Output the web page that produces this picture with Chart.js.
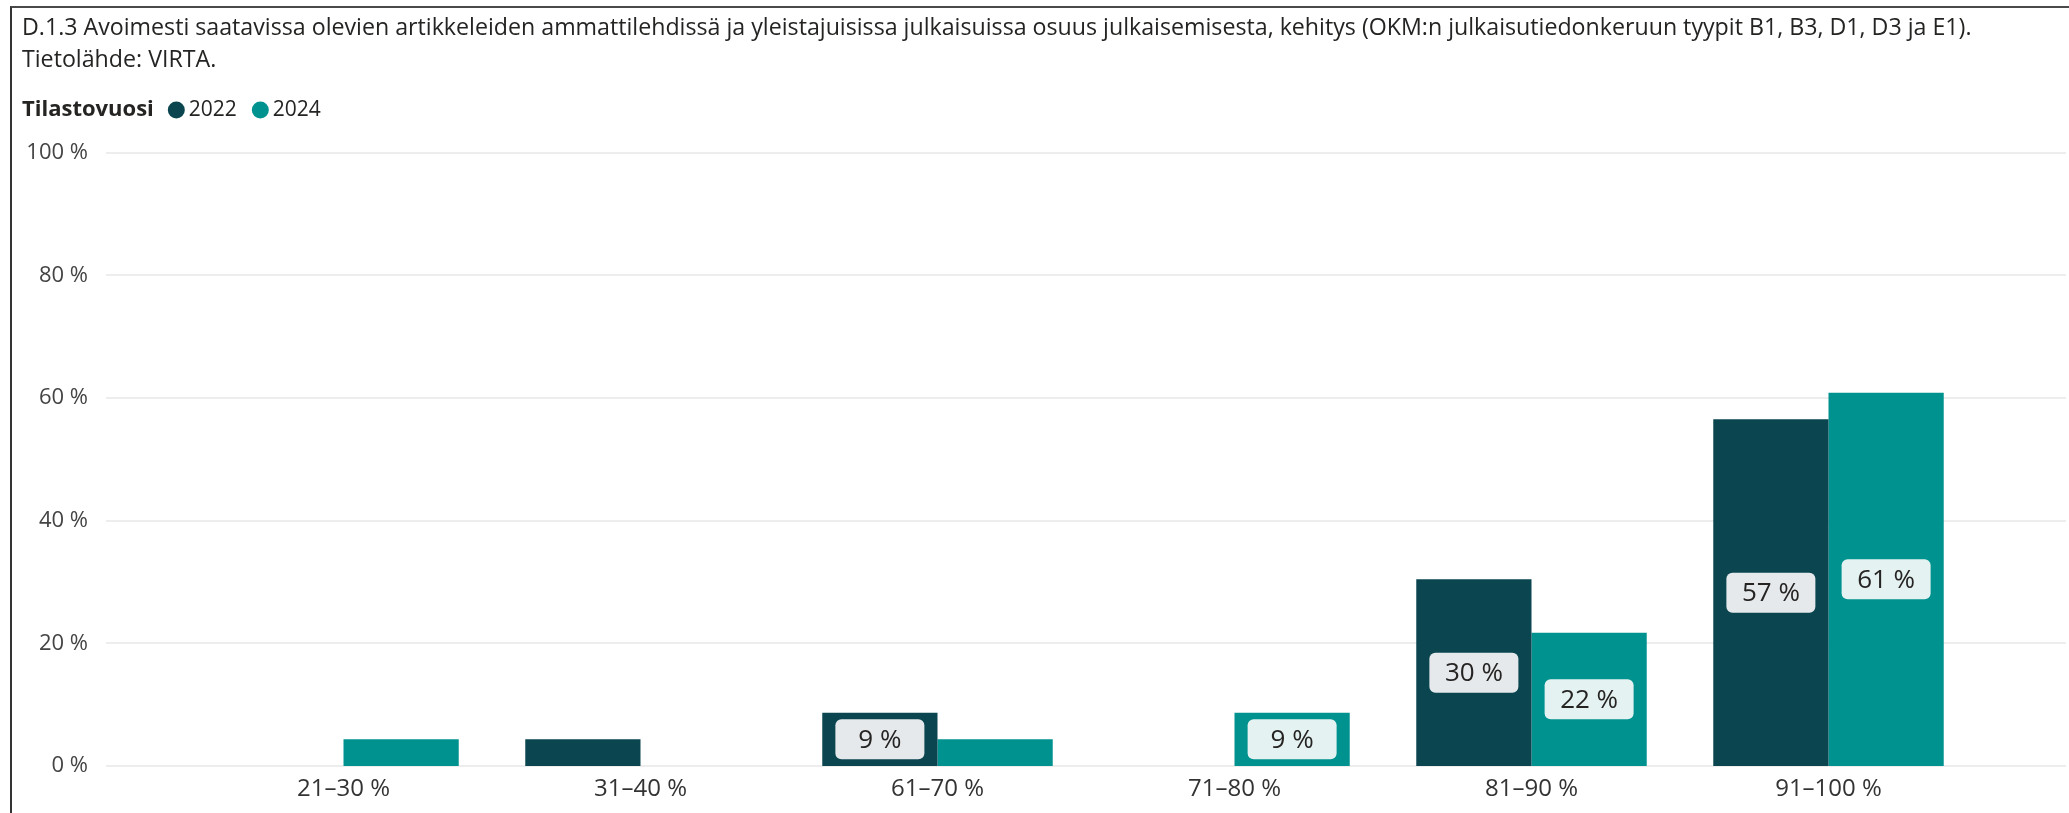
<!DOCTYPE html>
<html>
<head>
<meta charset="utf-8">
<script src="https://cdn.jsdelivr.net/npm/chart.js@4"></script>
<style>
    html, body { margin: 0; padding: 0; background: #ffffff; }
    #wrap { position: relative; width: 2069px; height: 813px; }
    #chart { position: absolute; left: 0; top: 0; }
    #frame { position: absolute; left: 10px; top: 6px; right: 0; bottom: 0; border-left: 2px solid #333333; border-top: 2px solid #4a4a4a; pointer-events: none; }
</style>
</head>
<body>
<div id="wrap">
    <canvas id="chart" width="2069" height="813"></canvas>
    <div id="frame"></div>
</div>
<script>
// Datos del grafico
const titleLines = [
    'D.1.3 Avoimesti saatavissa olevien artikkeleiden ammattilehdissä ja yleistajuisissa julkaisuissa osuus julkaisemisesta, kehitys (OKM:n julkaisutiedonkeruun tyypit B1, B3, D1, D3 ja E1).',
    'Tietolähde: VIRTA.'
];
const legendTitle = 'Tilastovuosi';
const categories = ['21–30 %', '31–40 %', '61–70 %', '71–80 %', '81–90 %', '91–100 %'];
const years = ['2022', '2024'];
const values2022 = [null, 4.35, 8.7, null, 30.43, 56.52];
const values2024 = [4.35, null, 4.35, 8.7, 21.74, 60.87];
const yTicks = [0, 20, 40, 60, 80, 100];

const colors = ['#0b4650', '#00928f'];
const labelBoxColors = ['#e6e9ec', '#e4f2f2'];
const textColor = '#252423';
const fontFamily = '"Open Sans", "Noto Sans", sans-serif';
const gridPad = 89;

// Leyenda en una sola linea con titulo en negrita
const legendLine = {
    id: 'legendLine',
    afterDraw(chart) {
        const ctx = chart.ctx;
        const y = 110;
        let x = 22;
        ctx.save();
        ctx.textBaseline = 'middle';
        ctx.textAlign = 'left';
        ctx.font = 'bold 22px ' + fontFamily;
        ctx.fillStyle = textColor;
        ctx.fillText(legendTitle, x, y);
        x += ctx.measureText(legendTitle).width + 14;
        ctx.font = '21px ' + fontFamily;
        chart.data.datasets.forEach(ds => {
            ctx.fillStyle = ds.backgroundColor;
            ctx.beginPath();
            ctx.arc(x + 8.5, y, 8.5, 0, Math.PI * 2);
            ctx.fill();
            x += 21;
            ctx.fillStyle = textColor;
            ctx.fillText(ds.label, x, y);
            x += ctx.measureText(ds.label).width + 15;
        });
        ctx.restore();
    }
};

// Lineas de cuadricula mas anchas que el area de categorias
const wideGrid = {
    id: 'wideGrid',
    beforeDatasetsDraw(chart) {
        const ctx = chart.ctx;
        const area = chart.chartArea;
        const scale = chart.scales.y;
        ctx.save();
        ctx.strokeStyle = '#ededed';
        ctx.lineWidth = 2;
        scale.ticks.forEach(t => {
            const py = Math.round(scale.getPixelForValue(t.value));
            ctx.beginPath();
            ctx.moveTo(area.left - gridPad, py);
            ctx.lineTo(area.right + gridPad, py);
            ctx.stroke();
        });
        ctx.restore();
    }
};

// Etiquetas de valor dentro de las barras
const barLabels = {
    id: 'barLabels',
    afterDatasetsDraw(chart) {
        const ctx = chart.ctx;
        ctx.save();
        ctx.font = '26px ' + fontFamily;
        ctx.textAlign = 'center';
        ctx.textBaseline = 'middle';
        chart.data.datasets.forEach((ds, i) => {
            const meta = chart.getDatasetMeta(i);
            meta.data.forEach((bar, j) => {
                const v = ds.data[j];
                if (v == null || v < 6) return;
                const cy = (bar.y + bar.base) / 2;
                const w = 89, h = 40;
                ctx.fillStyle = labelBoxColors[i];
                ctx.beginPath();
                ctx.roundRect(bar.x - w / 2, cy - h / 2, w, h, 6);
                ctx.fill();
                ctx.fillStyle = textColor;
                ctx.fillText(Math.round(v) + ' %', bar.x, cy + 1);
            });
        });
        ctx.restore();
    }
};

const ctx = document.getElementById('chart');

new Chart(ctx, {
    type: 'bar',
    data: {
        labels: categories,
        datasets: [{
            label: years[0],
            data: values2022,
            backgroundColor: colors[0],
            borderWidth: 0,
            categoryPercentage: 0.776,
            barPercentage: 1
        }, {
            label: years[1],
            data: values2024,
            backgroundColor: colors[1],
            borderWidth: 0,
            categoryPercentage: 0.776,
            barPercentage: 1
        }]
    },
    options: {
        responsive: false,
        animation: false,
        layout: { padding: { left: 22, right: 92, top: 0, bottom: 0 } },
        plugins: {
            legend: { display: false },
            tooltip: { enabled: false },
            title: {
                display: true,
                text: titleLines,
                align: 'start',
                color: textColor,
                font: { family: fontFamily, size: 23.2, weight: 'normal', lineHeight: 1.35 },
                padding: { top: 13, bottom: 77 }
            }
        },
        scales: {
            x: {
                afterFit: scale => { scale.height = 47; },
                grid: { display: false, drawTicks: false },
                border: { display: false },
                ticks: { color: '#333333', font: { family: fontFamily, size: 24 }, padding: 9, maxRotation: 0 }
            },
            y: {
                min: 0,
                max: 100,
                afterBuildTicks: scale => { scale.ticks = yTicks.map(v => ({ value: v })); },
                afterFit: scale => {
                    scale.width = 173;
                    scale.paddingTop = 14;
                    scale.paddingBottom = 14;
                },
                grid: { display: false, drawTicks: false },
                border: { display: false },
                ticks: {
                    color: '#444444',
                    font: { family: fontFamily, size: 22 },
                    padding: 107,
                    callback: v => v + ' %'
                }
            }
        }
    },
    plugins: [wideGrid, barLabels, legendLine]
});
</script>
</body>
</html>
